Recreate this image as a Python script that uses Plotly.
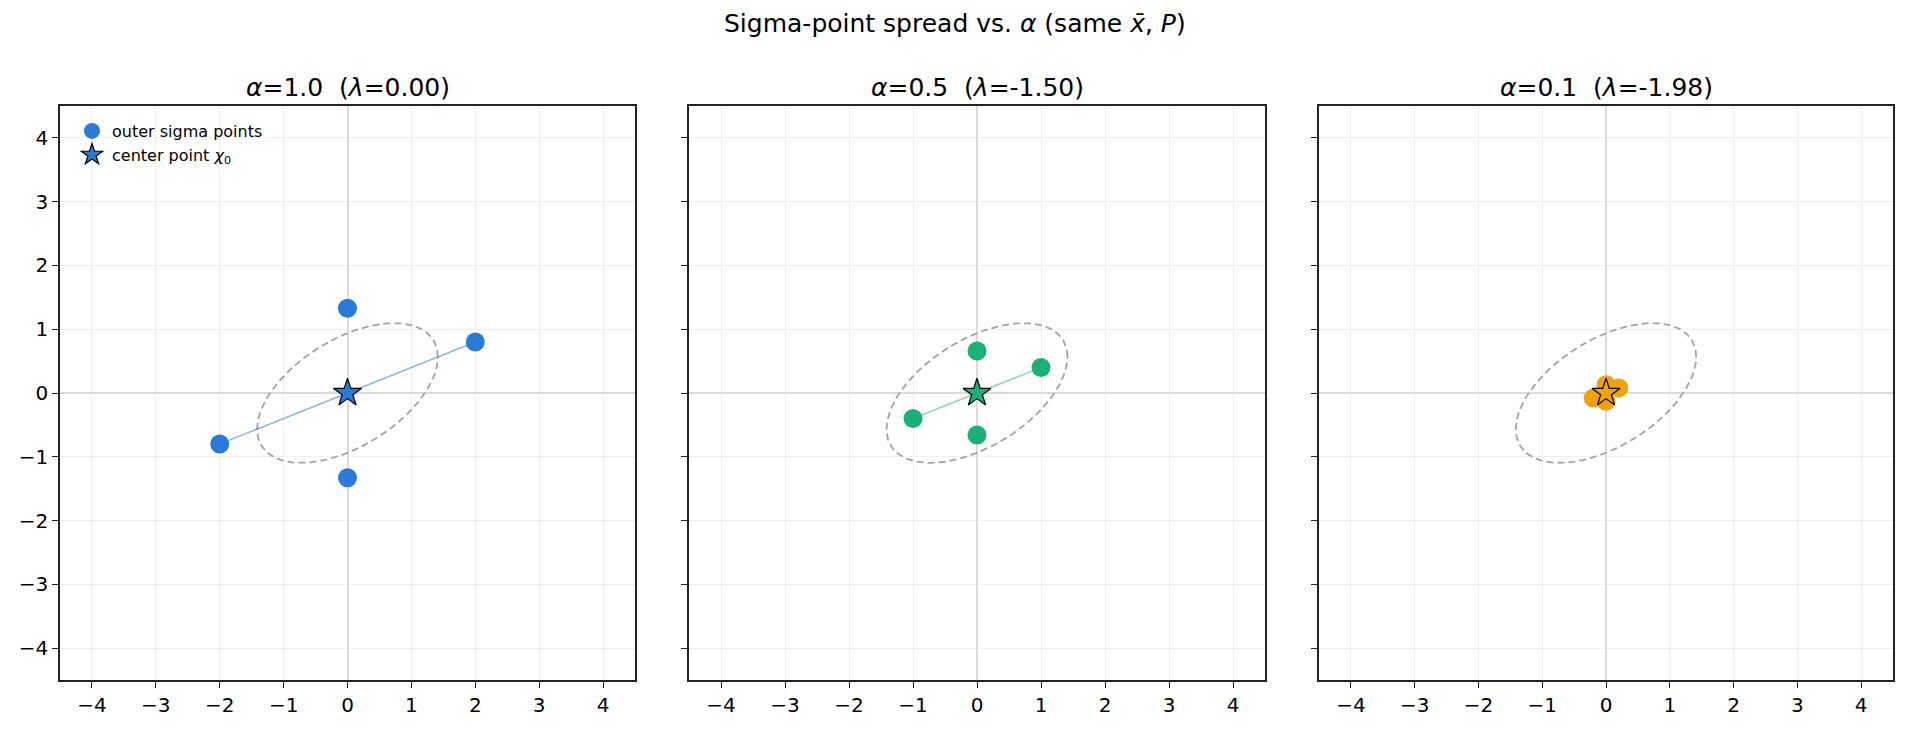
import numpy as np
import plotly.graph_objects as go

# ---- data ----
alphas = ["1.0", "0.5", "0.1"]
lambdas = ["0.00", "-1.50", "-1.98"]
colors = ["#2a7bd8", "#1bb078", "#f0a20c"]
line_colors = ["rgba(42,123,216,0.55)", "rgba(27,176,120,0.5)", "rgba(240,162,12,0.5)"]

outer_x = [
    [2.0, 0.0, -2.0, 0.0],
    [1.0, 0.0, -1.0, 0.0],
    [0.2, 0.0, -0.2, 0.0],
]
outer_y = [
    [0.8, 1.33, -0.8, -1.33],
    [0.4, 0.66, -0.4, -0.66],
    [0.08, 0.13, -0.08, -0.13],
]
center_x = [0.0, 0.0, 0.0]
center_y = [0.0, 0.0, 0.0]

# covariance P (1-sigma ellipse, same for all panels)
P = np.array([[2.0, 0.8], [0.8, 1.2]])
tick_vals = [-4, -3, -2, -1, 0, 1, 2, 3, 4]
tick_text = ["\u22124", "\u22123", "\u22122", "\u22121", "0", "1", "2", "3", "4"]

W, H = 1909, 730
x_dom = [(60 / W, 635 / W), (689 / W, 1265 / W), (1319 / W, 1893 / W)]
y_dom = (50 / H, 624 / H)

FONT = "DejaVu Sans"
fig = go.Figure()

t = np.linspace(0, 2 * np.pi, 200)
L = np.linalg.cholesky(P)
ell = L @ np.vstack([np.cos(t), np.sin(t)])

for i in range(3):
    xa = "x" if i == 0 else f"x{i+1}"
    ya = "y" if i == 0 else f"y{i+1}"
    # ellipse
    fig.add_trace(go.Scatter(x=ell[0], y=ell[1], mode="lines", xaxis=xa, yaxis=ya,
                             line=dict(color="#a3a3a3", width=1.8, dash="7px,4px"),
                             showlegend=False, hoverinfo="skip"))
    # line through the major pair
    fig.add_trace(go.Scatter(x=[outer_x[i][2], center_x[i], outer_x[i][0]],
                             y=[outer_y[i][2], center_y[i], outer_y[i][0]],
                             mode="lines", xaxis=xa, yaxis=ya,
                             line=dict(color=line_colors[i], width=1.5),
                             showlegend=False, hoverinfo="skip"))
    fig.add_trace(go.Scatter(x=outer_x[i], y=outer_y[i], mode="markers", xaxis=xa, yaxis=ya,
                             marker=dict(color=colors[i], size=19, line=dict(width=0)),
                             name="outer sigma points", showlegend=(i == 0)))
    fig.add_trace(go.Scatter(x=[center_x[i]], y=[center_y[i]], mode="markers", xaxis=xa, yaxis=ya,
                             marker=dict(color=colors[i], size=21, symbol="star",
                                         line=dict(color="black", width=1.2)),
                             name="center point <i>\u03c7</i><sub>0</sub>", showlegend=(i == 0)))

axis_common = dict(range=[-4.5, 4.5], tickmode="array", tickvals=tick_vals, ticktext=tick_text,
                   showgrid=True, gridcolor="#efefef", gridwidth=1,
                   zeroline=True, zerolinecolor="#dcdcd4", zerolinewidth=1.6,
                   showline=True, linecolor="#222222", linewidth=1.6, mirror=True,
                   ticks="outside", ticklen=6, tickwidth=1.3, tickcolor="#222222",
                   tickfont=dict(family=FONT, size=20, color="black"), fixedrange=True)

layout = dict()
for i in range(3):
    xk = "xaxis" if i == 0 else f"xaxis{i+1}"
    yk = "yaxis" if i == 0 else f"yaxis{i+1}"
    layout[xk] = dict(axis_common, domain=list(x_dom[i]), anchor="y" if i == 0 else f"y{i+1}")
    layout[yk] = dict(axis_common, domain=list(y_dom), anchor="x" if i == 0 else f"x{i+1}",
                      showticklabels=(i == 0))
fig.update_layout(**layout)

annotations = []
for i in range(3):
    annotations.append(dict(text=f"<i>\u03b1</i>={alphas[i]}\u00a0\u00a0(<i>\u03bb</i>={lambdas[i]})",
                            x=(x_dom[i][0] + x_dom[i][1]) / 2, y=1 - 87 / H,
                            xref="paper", yref="paper", xanchor="center", yanchor="middle",
                            showarrow=False, font=dict(family=FONT, size=25, color="black")))
annotations.append(dict(text="Sigma-point spread vs. <i>\u03b1</i> (same <i>x\u0304</i>, <i>P</i>)",
                        x=0.5, y=1 - 24 / H, xref="paper", yref="paper",
                        xanchor="center", yanchor="middle", showarrow=False,
                        font=dict(family=FONT, size=25, color="black")))

fig.update_layout(
    width=W, height=H, margin=dict(l=0, r=0, t=0, b=0),
    paper_bgcolor="white", plot_bgcolor="white",
    annotations=annotations,
    legend=dict(x=72 / W, y=1 - 114 / H, xanchor="left", yanchor="top",
                bgcolor="rgba(0,0,0,0)", borderwidth=0,
                font=dict(family=FONT, size=16, color="black"), tracegroupgap=4),
    font=dict(family=FONT),
)

fig.write_html("out.html")
